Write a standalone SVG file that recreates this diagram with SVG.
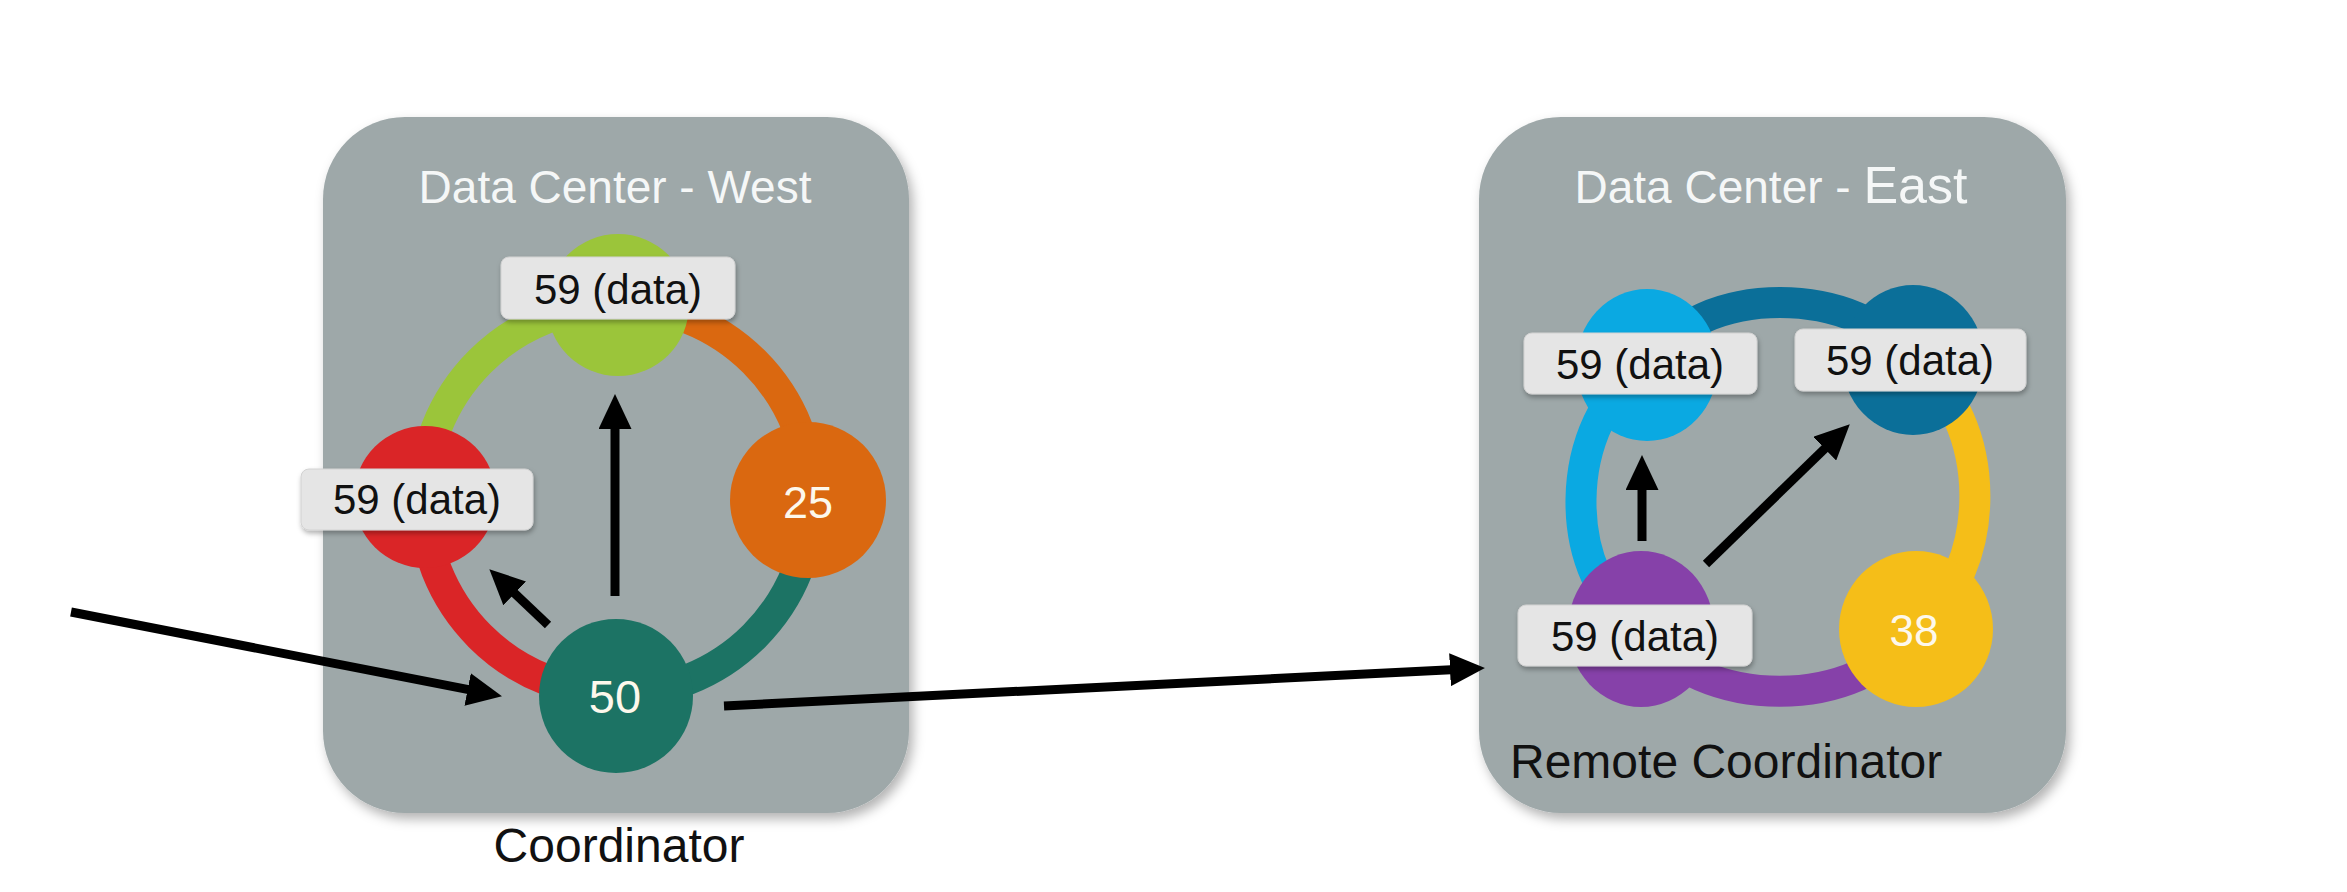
<svg xmlns="http://www.w3.org/2000/svg" width="2347" height="892" viewBox="0 0 2347 892">
  <style>
    .dc { fill: #9ea8a9; }
    .title { font-family: "Liberation Sans", Arial, sans-serif; fill: #f5f7f7; text-anchor: middle; }
    .lbl rect { fill: #e5e5e5; stroke: #d2d2d2; stroke-width: 1; }
    .lbl text { font-family: "Liberation Sans", Arial, sans-serif; font-size: 42px; fill: #111; text-anchor: middle; }
    .num { font-family: "Liberation Sans", Arial, sans-serif; fill: #fdf8ec; text-anchor: middle; }
    .cap { font-family: "Liberation Sans", Arial, sans-serif; font-size: 48px; fill: #111; }
    .ring { fill: none; stroke-width: 31; }
    .arrow { stroke: #000; stroke-width: 9; fill: none; marker-end: url(#head); }
  </style>
  <defs>
    <filter id="shadow" x="-10%" y="-10%" width="125%" height="125%">
      <feDropShadow dx="4" dy="6" stdDeviation="6" flood-color="#000" flood-opacity="0.3"/>
    </filter>
    <filter id="lshadow" x="-10%" y="-20%" width="125%" height="150%">
      <feDropShadow dx="1" dy="3" stdDeviation="2.5" flood-color="#000" flood-opacity="0.3"/>
    </filter>
    <marker id="head" markerUnits="userSpaceOnUse" markerWidth="35" markerHeight="33" refX="1" refY="16.5" orient="auto">
      <path d="M0,0 L35,16.5 L0,33 z" fill="#000"/>
    </marker>
  </defs>

  <rect width="2347" height="892" fill="#ffffff"/>

  <!-- West data center -->
  <g id="dc-west">
    <rect class="dc" x="323" y="117" width="586" height="696" rx="82" filter="url(#shadow)"/>
    <text class="title" x="615" y="203" font-size="46">Data Center - West</text>
    <path class="ring" stroke="#9bc53a" d="M423 499 A194 194 0 0 1 617 305"/>
    <path class="ring" stroke="#da6810" d="M617 305 A194 194 0 0 1 811 499"/>
    <path class="ring" stroke="#1c7364" d="M811 499 A194 194 0 0 1 617 693"/>
    <path class="ring" stroke="#da2527" d="M617 693 A194 194 0 0 1 423 499"/>
  </g>

  <g id="node-green"><circle cx="618" cy="305" r="71" fill="#9bc53a"/></g>
  <g id="node-red"><circle cx="425" cy="497" r="71" fill="#da2527"/></g>
  <g id="node-orange">
    <circle cx="808" cy="500" r="78" fill="#da6810"/>
    <text class="num" x="808" y="518" font-size="45">25</text>
  </g>
  <g id="node-teal">
    <circle cx="616" cy="696" r="77" fill="#1c7364"/>
    <text class="num" x="615" y="713" font-size="47">50</text>
  </g>

  <!-- East data center -->
  <g id="dc-east">
    <rect class="dc" x="1479" y="117" width="587" height="696" rx="82" filter="url(#shadow)"/>
    <text class="title" x="1771" y="203" font-size="46">Data Center - <tspan font-size="52">East</tspan></text>
    <path class="ring" stroke="#0aa9e2" d="M1647 365 C1560 420 1560 580 1641 629"/>
    <path class="ring" stroke="#0b6f99" d="M1647 365 C1700 280 1860 285 1913 360"/>
    <path class="ring" stroke="#f5be18" d="M1913 360 C1995 420 1995 570 1916 629"/>
    <path class="ring" stroke="#8641a9" d="M1641 629 C1700 712 1860 712 1916 629"/>
  </g>

  <g id="node-lightblue"><ellipse cx="1647" cy="365" rx="71" ry="76" fill="#0aa9e2"/></g>
  <g id="node-darkblue"><ellipse cx="1913" cy="360" rx="71" ry="75" fill="#0b6f99"/></g>
  <g id="node-purple"><ellipse cx="1641" cy="629" rx="73" ry="78" fill="#8641a9"/></g>
  <g id="node-yellow">
    <ellipse cx="1916" cy="629" rx="77" ry="78" fill="#f5be18"/>
    <text class="num" x="1914" y="646" font-size="44">38</text>
  </g>

  <!-- labels -->
  <g id="label-green" class="lbl">
    <rect x="501" y="257" width="234" height="62" rx="8" filter="url(#lshadow)"/>
    <text x="618" y="304">59 (data)</text>
  </g>
  <g id="label-red" class="lbl">
    <rect x="301" y="469" width="232" height="61" rx="8" filter="url(#lshadow)"/>
    <text x="417" y="514">59 (data)</text>
  </g>
  <g id="label-lightblue" class="lbl">
    <rect x="1524" y="333" width="233" height="61" rx="8" filter="url(#lshadow)"/>
    <text x="1640" y="379">59 (data)</text>
  </g>
  <g id="label-darkblue" class="lbl">
    <rect x="1795" y="329" width="231" height="62" rx="8" filter="url(#lshadow)"/>
    <text x="1910" y="375">59 (data)</text>
  </g>
  <g id="label-purple" class="lbl">
    <rect x="1518" y="605" width="234" height="61" rx="8" filter="url(#lshadow)"/>
    <text x="1635" y="651">59 (data)</text>
  </g>

  <!-- captions -->
  <text id="cap-coordinator" class="cap" x="619" y="862" text-anchor="middle">Coordinator</text>
  <text id="cap-remote" class="cap" x="1510" y="778" font-size="49">Remote Coordinator</text>

  <!-- connectors -->
  <g id="connectors">
    <line class="arrow" x1="71" y1="612" x2="468.6" y2="689.7"/>
    <line class="arrow" x1="724" y1="706" x2="1451" y2="669.7"/>
    <line class="arrow" x1="615" y1="596" x2="615" y2="428"/>
    <line class="arrow" x1="548" y1="625" x2="514" y2="592.7"/>
    <line class="arrow" x1="1642" y1="541" x2="1642" y2="489"/>
    <line class="arrow" x1="1706" y1="564" x2="1825.4" y2="448"/>
  </g>
</svg>
